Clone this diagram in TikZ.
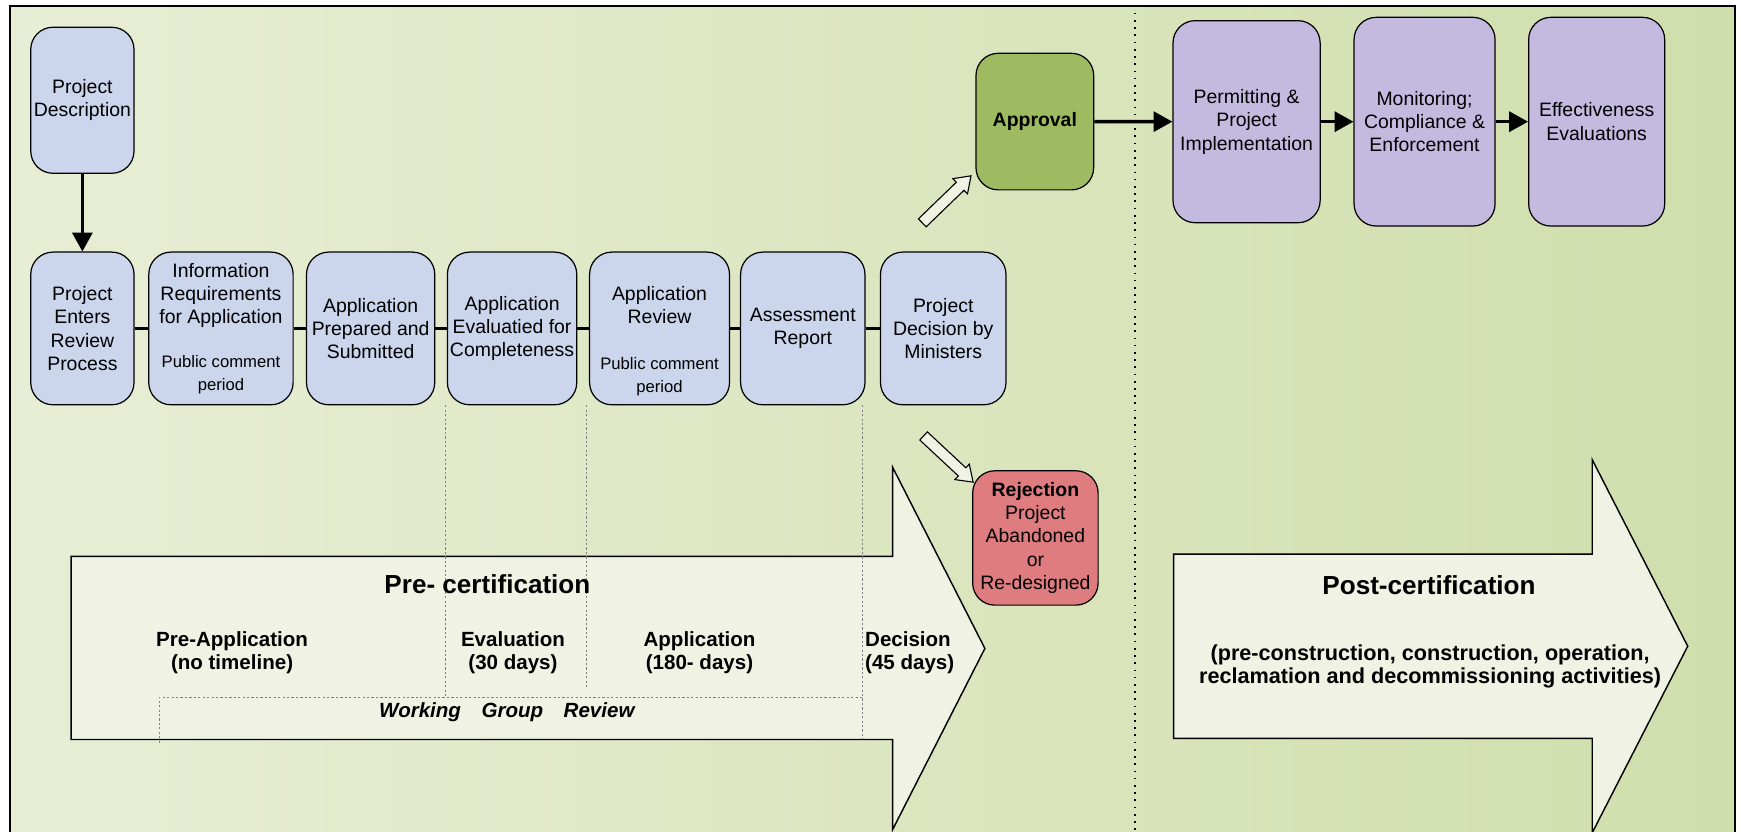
\documentclass[tikz,border=0pt]{standalone}
\usepackage{fontspec}
\setmainfont{Liberation Sans}
\usetikzlibrary{arrows.meta,shapes.arrows}
\definecolor{bgpale}{RGB}{232,238,213}
\definecolor{bggreen}{RGB}{208,222,172}
\definecolor{boxblue}{RGB}{203,213,236}
\definecolor{boxgreen}{RGB}{158,187,98}
\definecolor{boxpurple}{RGB}{196,185,223}
\definecolor{boxred}{RGB}{222,124,128}
\definecolor{arrowfill}{RGB}{240,243,228}
\newcommand{\cmtfont}{\fontsize{15}{19}\selectfont}

\begin{document}
\begin{tikzpicture}[x=1pt,y=-1pt,
  box/.style={draw,line width=1.1pt,rounded corners=20pt,fill=boxblue,align=center,inner sep=1pt,minimum height=137.5pt,font=\fontsize{17.5}{21}\selectfont},
  link/.style={line width=3.3pt},
  flow/.style={line width=3pt,-{Triangle[length=17pt,width=18pt]}},
  hollow/.style={single arrow,draw,line width=1pt,fill=arrowfill,inner xsep=0pt,inner ysep=4.5pt,single arrow head extend=4.5pt,single arrow tip angle=70},
  guide/.style={gray,line width=0.8pt,dash pattern=on 2pt off 2pt},
  bigarrow/.style={draw,line width=1.3pt,fill=arrowfill},
  phase/.style={font=\bfseries\fontsize{23.5}{27}\selectfont},
  stage/.style={align=center,font=\bfseries\fontsize{18.5}{21}\selectfont}]
  \useasboundingbox (0,0) rectangle (1568,749);
  \shade[left color=bgpale,right color=bggreen] (9,5) rectangle (1563,760);
  \draw[line width=1.8pt] (9,760) -- (9,5) -- (1563,5) -- (1563,760);
  \draw[line width=1.5pt,dash pattern=on 1.5pt off 5pt] (1022,5) -- (1022,760);
  \draw[bigarrow] (64,501) -- (804,501) -- (804,421) -- (887,584) -- (804,747) -- (804,666) -- (64,666) -- cycle;
  \draw[bigarrow] (1057,499) -- (1434,499) -- (1434,414) -- (1520,582) -- (1434,750) -- (1434,665) -- (1057,665) -- cycle;
  \draw[guide] (401,365) -- (401,628);
  \draw[guide] (528.5,365) -- (528.5,620);
  \draw[guide] (777,365) -- (777,666);
  \draw[guide] (143.5,669) -- (143.5,628) -- (777,628);
  \node[phase] (pre) at (439,526) {Pre- certification};
  \node[stage] (preapp) at (209,588) {Pre-Application\\(no timeline)};
  \node[stage] (evalst) at (462,588) {Evaluation\\(30 days)};
  \node[stage] (appst) at (630,588) {Application\\(180- days)};
  \node[stage,align=left,anchor=west,inner sep=0pt] (decst) at (779,588) {Decision\\(45 days)};
  \node[font=\bfseries\itshape\fontsize{18.5}{21}\selectfont] (wgr) at (456.5,641) {Working\quad Group\quad Review};
  \node[phase] (post) at (1287,527) {Post-certification};
  \node[align=center,font=\bfseries\fontsize{19.5}{21}\selectfont] (postact) at (1288,600) {(pre-construction, construction, operation,\\reclamation and decommissioning activities)};
  \node[box,minimum width=93pt,minimum height=131.5pt] (desc) at (74.2,90.3) {Project\\Description};
  \node[box,minimum width=93pt] (enter) at (74.2,295.8) {Project\\Enters\\Review\\Process};
  \node[box,minimum width=130pt] (info) at (199,295.8) {Information\\Requirements\\for Application\\[18pt]\cmtfont Public comment\\\cmtfont period};
  \node[box,minimum width=115.5pt] (prep) at (333.8,295.8) {Application\\Prepared and\\Submitted};
  \node[box,minimum width=116.5pt] (eval) at (461.2,295.8) {Application\\Evaluatied for\\Completeness};
  \node[box,minimum width=126pt] (review) at (594,295.8) {\strut\\Application\\Review\\[20pt]\cmtfont Public comment\\\cmtfont period};
  \node[box,minimum width=112pt] (assess) at (723,295.8) {Assessment\\Report};
  \node[box,minimum width=113pt] (dec) at (849.5,295.8) {Project\\Decision by\\Ministers};
  \node[box,fill=boxgreen,minimum width=106pt,minimum height=123pt,font=\bfseries\fontsize{17.5}{21}\selectfont] (appr) at (932,109.5) {Approval};
  \node[box,fill=boxpurple,minimum width=132.5pt,minimum height=182pt] (permit) at (1122.7,109.6) {Permitting \&\\Project\\Implementation};
  \node[box,fill=boxpurple,minimum width=127pt,minimum height=188pt] (monit) at (1283,109.6) {Monitoring;\\Compliance \&\\Enforcement};
  \node[box,fill=boxpurple,minimum width=122.5pt,minimum height=188pt] (effect) at (1438,109.6) {Effectiveness\\Evaluations};
  \node[box,fill=boxred,minimum width=113pt,minimum height=121pt] (reject) at (932.5,484.5) {\textbf{Rejection}\\Project\\Abandoned\\or\\Re-designed};
  \draw[flow] (desc) -- (enter);
  \draw[link] (enter) -- (info);
  \draw[link] (info) -- (prep);
  \draw[link] (prep) -- (eval);
  \draw[link] (eval) -- (review);
  \draw[link] (review) -- (assess);
  \draw[link] (assess) -- (dec);
  \draw[flow] (appr) -- (permit);
  \draw[flow] (permit) -- (monit);
  \draw[flow] (monit) -- (effect);
  \node[hollow,rotate=44,minimum height=61pt] (toappr) at (850,182) {};
  \node[hollow,rotate=-43,minimum height=61pt] (toreject) at (851.5,411) {};
\end{tikzpicture}
\end{document}
